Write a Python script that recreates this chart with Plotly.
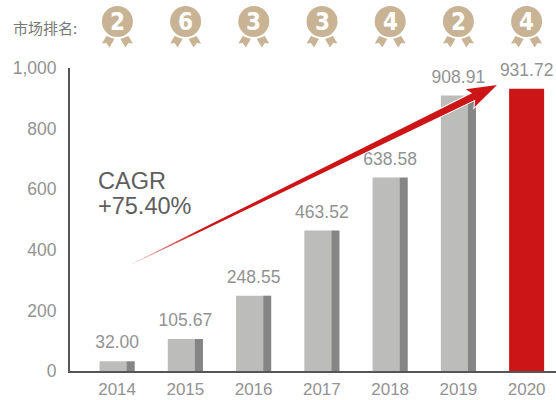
import plotly.graph_objects as go

years = ["2014", "2015", "2016", "2017", "2018", "2019", "2020"]
values = [32.00, 105.67, 248.55, 463.52, 638.58, 908.91, 931.72]
value_labels = ["32.00", "105.67", "248.55", "463.52", "638.58", "908.91", "931.72"]
ranks = ["2", "6", "3", "3", "4", "2", "4"]
y_ticks = [0, 200, 400, 600, 800, 1000]
y_tick_labels = ["0", "200", "400", "600", "800", "1,000"]

W, H = 556, 400
L, R, T, B = 70, 556, 68, 371
GREY_TEXT = "#929292"
MEDAL = "#c8b494"


def px(x):
    return (x - L) / (R - L)


def py(y):
    return (B - y) / (B - T)


def path(points):
    return "M " + " L ".join(f"{px(x):.5f},{py(y):.5f}" for x, y in points) + " Z"


fig = go.Figure()
grey_years, grey_vals = years[:-1], values[:-1]
fig.add_bar(x=grey_years, y=grey_vals, width=0.40, offset=-0.257, marker_color="#bcbcba", marker_line_width=0)
fig.add_bar(x=grey_years, y=grey_vals, width=0.118, offset=0.14, marker_color="#858585", marker_line_width=0)
fig.add_bar(x=years[-1:], y=values[-1:], width=0.513, offset=-0.257, marker_color="#cc1517", marker_line_width=0)
fig.add_scatter(x=years, y=values, mode="markers+text", text=value_labels, textposition="top center",
                marker=dict(size=12, opacity=0), cliponaxis=False,
                textfont=dict(size=17.5, color=GREY_TEXT, family="Liberation Sans"))

shapes = []
annotations = []

# medals
for i, rank in enumerate(ranks):
    cx = 117.4 + 68.2 * i
    for s in (-1, 1):
        shapes.append(dict(type="path", xref="paper", yref="paper", line_width=0, fillcolor=MEDAL,
                           path=path([(cx + s * 11, 36), (cx + s * 3, 39), (cx + s * 8, 47.5),
                                      (cx + s * 11, 43), (cx + s * 15.5, 43.5)])))
    shapes.append(dict(type="circle", xref="paper", yref="paper", line_width=0, fillcolor=MEDAL,
                       x0=px(cx - 15.5), x1=px(cx + 15.5), y0=py(37), y1=py(6)))
    annotations.append(dict(xref="paper", yref="paper", x=px(cx), y=py(21.5), text=f"<b>{rank}</b>", showarrow=False,
                            font=dict(size=24, color="white", family="DejaVu Sans Condensed"),
                            xanchor="center", yanchor="middle"))

# arrow, fading toward its tail
x0, y0 = 132.0, 264.0
x1, y1 = 497.0, 85.0
dx, dy = x1 - x0, y1 - y0
length = (dx * dx + dy * dy) ** 0.5
ux, uy = dx / length, dy / length
nx, ny = -uy, ux
neck = length - 26


def at(d, off):
    return (x0 + ux * d + nx * off, y0 + uy * d + ny * off)


def half(d):
    return 0.4 + 3.2 * d / neck


arrow = path([at(0, 0.4), at(neck, half(neck)), at(neck - 4, 10), at(length, 0),
              at(neck - 4, -10), at(neck, -half(neck)), at(0, -0.4)])
shapes.append(dict(type="path", xref="paper", yref="paper", fillcolor="#cc1517",
                   line=dict(color="white", width=2), path=arrow))
shapes.append(dict(type="path", xref="paper", yref="paper", fillcolor="#cc1517", line_width=0, path=arrow))
steps = 10
step_len = 7
for k in range(steps):
    a, b = k * step_len, (k + 1) * step_len
    shapes.append(dict(type="path", xref="paper", yref="paper", fillcolor="white",
                       opacity=0.85 * (1 - k / steps), line_width=0,
                       path=path([at(a, 3), at(b, 3), at(b, -3), at(a, -3)])))

for text, yc in (("CAGR", 181), ("+75.40%", 206)):
    annotations.append(dict(xref="paper", yref="paper", x=px(98), y=py(yc), text=text, showarrow=False,
                            align="left", xanchor="left", yanchor="middle", xshift=-2,
                            font=dict(size=23.5, color="#5e5e5e", family="Liberation Sans")))
annotations.append(dict(xref="paper", yref="paper", x=px(13), y=py(27), text="市场排名:", showarrow=False,
                        xanchor="left", yanchor="middle", xshift=-2,
                        font=dict(size=15, color="#777777", family="Noto Sans CJK SC")))

fig.update_layout(
    template="none",
    width=W, height=H, autosize=False, barmode="overlay", showlegend=False,
    margin=dict(l=L, r=W - R, t=T, b=H - B, pad=0),
    paper_bgcolor="white", plot_bgcolor="white",
    shapes=shapes, annotations=annotations,
    font=dict(family="Liberation Sans", size=16, color=GREY_TEXT),
)
fig.update_xaxes(type="category", categoryorder="array", categoryarray=years, range=[-0.69, 6.43], automargin=False,
                 showline=True, linecolor="#555555", linewidth=2, showgrid=False, zeroline=False,
                 ticks="outside", ticklen=2, tickcolor="rgba(0,0,0,0)", tickfont=dict(size=17, color=GREY_TEXT))
fig.update_yaxes(range=[0, 1000], tickvals=y_ticks, ticktext=y_tick_labels, automargin=False,
                 showline=True, linecolor="#555555", linewidth=2, showgrid=False, zeroline=False,
                 ticks="outside", ticklen=8, tickcolor="rgba(0,0,0,0)", tickfont=dict(size=17.5, color=GREY_TEXT))

fig.write_html("out.html", config=dict(displayModeBar=False),
               post_script="document.body.style.margin='0';document.body.style.overflow='hidden';")
